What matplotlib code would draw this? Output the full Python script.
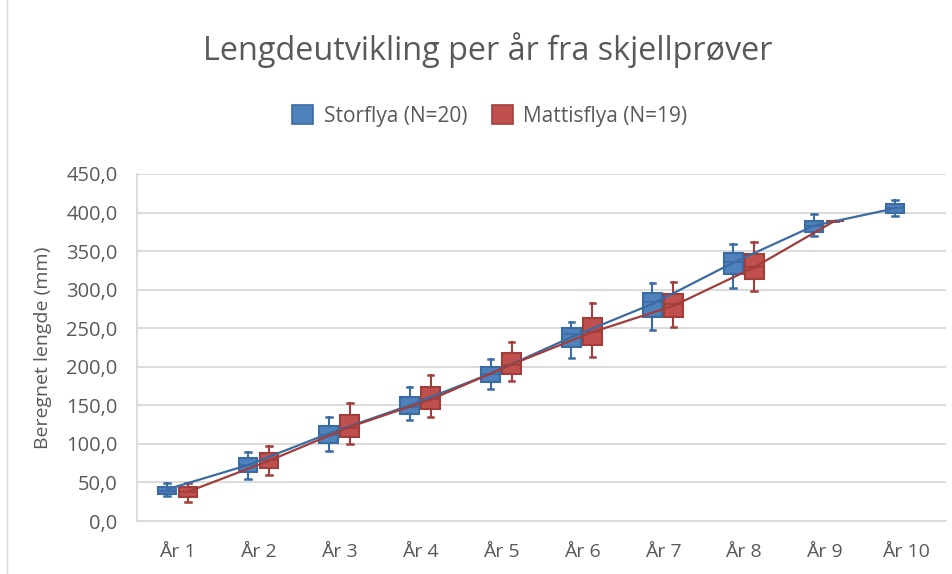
import matplotlib
matplotlib.use("Agg")
import matplotlib.pyplot as plt
from matplotlib.patches import Patch
import numpy as np

plt.rcParams['font.family'] = ['Open Sans', 'DejaVu Sans']

categories = ["År 1", "År 2", "År 3", "År 4", "År 5", "År 6", "År 7", "År 8", "År 9", "År 10"]

# Storflya (N=20)
b_wlo = [32.4, 54.5, 91.2, 131.0, 171.6, 211.0, 247.7, 302.6, 369.6, 395.6]
b_q1 = [34.6, 63.2, 100.8, 138.8, 180.7, 226.1, 264.2, 320.0, 375.2, 400.0]
b_med = [39.3, 72.6, 111.5, 148.3, 190.3, 242.2, 284.4, 336.3, 382.6, 405.6]
b_q3 = [44.5, 81.3, 123.2, 160.4, 199.3, 249.9, 296.1, 348.0, 389.5, 411.0]
b_whi = [49.6, 89.9, 135.3, 173.4, 209.7, 258.5, 309.1, 358.9, 397.8, 416.0]
b_mean = [41.0, 72.5, 113.5, 150.0, 191.0, 238.5, 281.5, 335.0, 383.0, 405.5]

# Mattisflya (N=19)
r_wlo = [24.6, 59.3, 99.9, 134.5, 181.6, 213.1, 251.6, 298.3, 389.5]
r_q1 = [31.5, 69.1, 108.5, 144.9, 190.7, 228.3, 265.0, 313.5, 389.5]
r_med = [38.0, 79.0, 121.0, 158.2, 202.3, 245.5, 281.5, 329.8, 389.5]
r_q3 = [44.5, 88.6, 137.5, 174.2, 218.3, 262.9, 294.4, 345.9, 389.5]
r_whi = [49.6, 97.7, 152.7, 189.4, 232.6, 282.3, 309.6, 361.5, 389.5]
r_mean = [38.0, 78.0, 122.0, 157.5, 203.0, 245.0, 279.0, 329.0, 389.5]

series = [
    ("Storflya (N=20)", b_wlo, b_q1, b_med, b_q3, b_whi, b_mean, "#4F81BD", "#3B6BA3", -0.13),
    ("Mattisflya (N=19)", r_wlo, r_q1, r_med, r_q3, r_whi, r_mean, "#C0504D", "#A03E3B", 0.13),
]

fig = plt.figure(figsize=(9.53, 5.74), dpi=100)
ax = fig.add_axes([137/953, 53/574, (946-137)/953, (521-174)/574])

x = np.arange(len(categories))
handles = []
for name, wlo, q1, med, q3, whi, mean, fill, edge, off in series:
    stats = []
    for i in range(len(med)):
        stats.append(dict(whislo=wlo[i], q1=q1[i], med=med[i], q3=q3[i],
                          whishi=whi[i], mean=mean[i], fliers=[]))
    pos = x[:len(med)] + off
    ax.bxp(stats, positions=pos, widths=0.23, capwidths=0.07, patch_artist=True,
           showfliers=False, showmeans=False,
           boxprops=dict(facecolor=fill, edgecolor=edge, linewidth=1.5),
           medianprops=dict(color=edge, linewidth=1.2),
           whiskerprops=dict(color=edge, linewidth=1.5),
           capprops=dict(color=edge, linewidth=1.8), zorder=3)
    ax.plot(pos, mean, color=edge, linewidth=1.6, zorder=4)
    handles.append(Patch(facecolor=fill, edgecolor=edge, linewidth=1.2, label=name))

ax.set_xlim(-0.5, len(categories) - 0.5)
ax.set_ylim(0, 450)
ax.set_yticks(np.arange(0, 451, 50))
ax.set_yticklabels([f"{v:.1f}".replace(".", ",") for v in np.arange(0, 451, 50)])
ax.set_xticks(x)
ax.set_xticklabels(categories)
ax.grid(axis='y', color='#D9D9D9', linewidth=1.3, zorder=0)
ax.set_axisbelow(True)
for s in ['top', 'right']:
    ax.spines[s].set_visible(False)
ax.spines['left'].set_color('#D9D9D9')
ax.spines['bottom'].set_color('#D9D9D9')
ax.spines['left'].set_linewidth(1.3)
ax.spines['bottom'].set_linewidth(1.3)
ax.tick_params(axis='x', length=0, labelsize=14, colors='#595959', pad=16)
ax.tick_params(axis='y', length=0, labelsize=14.5, colors='#595959', pad=14)
ax.set_ylabel("Beregnet lengde (mm)", fontsize=14, color='#595959', labelpad=10)

fig.text(488/953, 1 - 50/574, "Lengdeutvikling per år fra skjellprøver", ha='center', va='center',
         fontsize=23.3, color='#595959')
fig.legend(handles=handles, loc='center', bbox_to_anchor=(490/953, 1 - 116/574), ncol=2,
           frameon=False, fontsize=15, handlelength=1.0, handleheight=1.0, handletextpad=0.5,
           columnspacing=1.2, labelcolor='#595959')

fig.add_artist(plt.Line2D([7/953, 7/953], [0, 1], transform=fig.transFigure, color='#D9D9D9', linewidth=1))

fig.savefig("out.png", dpi=100)
